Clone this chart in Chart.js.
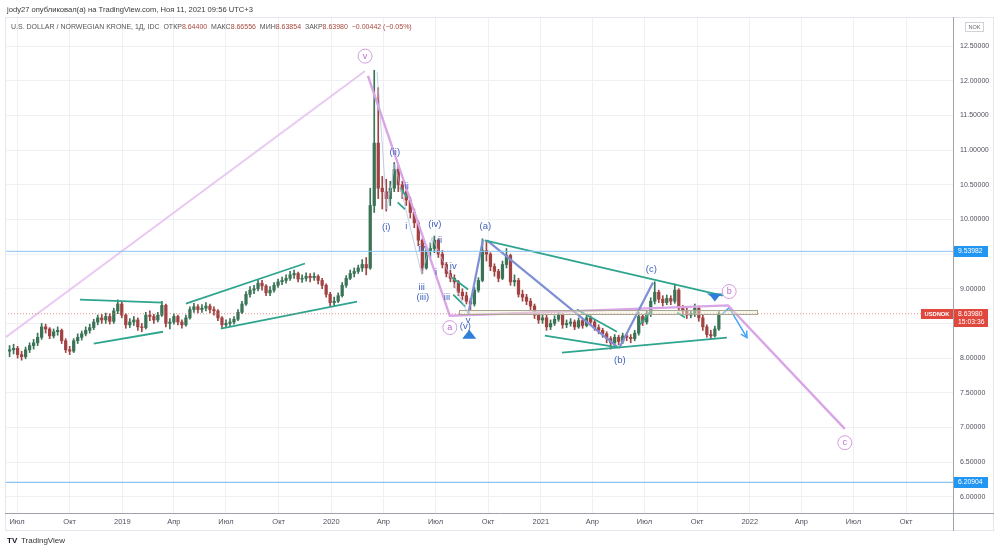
<!DOCTYPE html>
<html><head><meta charset="utf-8">
<script src="https://cdn.jsdelivr.net/npm/chart.js@4/dist/chart.umd.min.js"></script>
<style>html,body{margin:0;padding:0;background:#fff}#wrap{position:relative;width:1000px;height:553px}</style>
</head><body><div id="wrap"><canvas id="c"></canvas></div>
<script>
const FONT = "'Liberation Sans', Arial, sans-serif";
// x axis: days since 2018-07-01
const tickLabels = ['Июл','Окт','2019','Апр','Июл','Окт','2020','Апр','Июл','Окт','2021','Апр','Июл','Окт','2022','Апр','Июл','Окт'];
const priceTicks = [6.0,6.5,7.0,7.5,8.0,8.5,9.0,9.5,10.0,10.5,11.0,11.5,12.0,12.5];
const firstWeekDay = -13;   // week of 2018-06-18
const firstOpen = 8.10;
const close = [
8.12,8.14,8.05,8.02,8.12,8.18,8.22,8.30,8.45,8.42,
8.32,8.38,8.40,8.25,8.12,8.10,8.25,8.30,8.35,8.40,
8.44,8.52,8.58,8.55,8.60,8.53,8.68,8.78,8.62,8.48,
8.52,8.55,8.45,8.44,8.62,8.60,8.55,8.62,8.76,8.50,
8.52,8.60,8.52,8.48,8.58,8.70,8.74,8.70,8.72,8.75,
8.70,8.68,8.58,8.48,8.50,8.52,8.56,8.66,8.78,8.92,
8.98,9.00,9.08,9.04,8.94,8.98,9.05,9.10,9.12,9.15,
9.20,9.22,9.14,9.15,9.18,9.16,9.18,9.12,9.05,8.92,
8.80,8.82,8.90,9.05,9.15,9.22,9.25,9.30,9.35,9.30,
10.20,11.10,10.45,10.40,10.30,10.45,10.72,10.50,10.40,10.28,
10.10,9.95,9.70,9.30,9.55,9.58,9.70,9.50,9.35,9.22,
9.15,9.10,8.95,8.90,8.82,8.78,8.98,9.12,9.55,9.50,
9.32,9.25,9.15,9.35,9.48,9.10,9.12,8.92,8.88,8.82,
8.75,8.62,8.55,8.58,8.45,8.50,8.56,8.62,8.48,8.50,
8.52,8.45,8.54,8.47,8.58,8.52,8.44,8.40,8.35,8.28,
8.22,8.30,8.24,8.32,8.30,8.28,8.36,8.60,8.52,8.64,
8.82,8.95,8.85,8.80,8.86,8.82,8.98,8.72,8.68,8.62,
8.64,8.72,8.58,8.45,8.34,8.32,8.42,8.64];
const high = [
8.18,8.20,8.17,8.10,8.16,8.22,8.27,8.36,8.50,8.49,
8.44,8.42,8.45,8.42,8.28,8.17,8.28,8.35,8.39,8.45,
8.49,8.56,8.62,8.63,8.65,8.64,8.72,8.84,8.81,8.64,
8.57,8.60,8.58,8.50,8.66,8.68,8.63,8.66,8.82,8.78,
8.57,8.64,8.62,8.55,8.62,8.74,8.79,8.77,8.77,8.80,
8.78,8.74,8.70,8.60,8.55,8.57,8.60,8.70,8.82,8.96,
9.03,9.05,9.13,9.12,9.06,9.03,9.09,9.14,9.17,9.20,
9.25,9.27,9.24,9.20,9.23,9.22,9.23,9.20,9.15,9.07,
8.95,8.88,8.94,9.09,9.19,9.27,9.30,9.34,9.42,9.45,
10.45,12.15,11.90,10.62,10.58,10.55,10.82,10.78,10.55,10.45,
10.32,10.15,9.98,9.72,9.62,9.66,9.76,9.72,9.55,9.38,
9.27,9.20,9.12,9.00,8.95,8.86,9.02,9.16,9.72,9.68,
9.52,9.36,9.28,9.40,9.58,9.50,9.20,9.15,8.98,8.92,
8.86,8.78,8.66,8.63,8.62,8.55,8.61,8.68,8.64,8.55,
8.57,8.55,8.58,8.57,8.62,8.61,8.55,8.48,8.43,8.38,
8.31,8.34,8.33,8.36,8.36,8.34,8.40,8.66,8.63,8.68,
8.87,9.10,8.98,8.90,8.91,8.90,9.07,9.00,8.76,8.72,
8.69,8.78,8.75,8.62,8.48,8.40,8.46,8.67];
const low = [
8.02,8.06,8.00,7.97,7.99,8.08,8.13,8.18,8.27,8.36,
8.28,8.29,8.33,8.21,8.08,8.05,8.08,8.21,8.26,8.32,
8.36,8.41,8.48,8.50,8.50,8.49,8.50,8.64,8.58,8.43,
8.44,8.47,8.40,8.38,8.42,8.54,8.50,8.52,8.60,8.45,
8.42,8.49,8.48,8.43,8.46,8.56,8.66,8.65,8.66,8.68,
8.65,8.62,8.54,8.44,8.45,8.46,8.49,8.54,8.64,8.76,
8.88,8.93,8.97,8.98,8.90,8.90,8.95,9.02,9.06,9.08,
9.12,9.15,9.10,9.09,9.11,9.10,9.12,9.07,9.00,8.88,
8.75,8.76,8.80,8.88,9.02,9.13,9.17,9.22,9.25,9.20,
9.28,10.10,10.30,10.15,10.12,10.20,10.40,10.40,10.30,10.20,
10.02,9.88,9.62,9.22,9.28,9.45,9.52,9.45,9.30,9.17,
9.10,9.02,8.90,8.84,8.78,8.70,8.75,8.95,9.10,9.40,
9.26,9.18,9.10,9.13,9.30,9.05,9.04,8.88,8.82,8.77,
8.70,8.57,8.50,8.50,8.40,8.41,8.47,8.53,8.43,8.44,
8.46,8.41,8.43,8.43,8.45,8.48,8.40,8.35,8.30,8.22,
8.13,8.18,8.19,8.21,8.25,8.22,8.25,8.33,8.47,8.49,
8.60,8.78,8.80,8.75,8.77,8.77,8.79,8.68,8.63,8.57,
8.58,8.60,8.53,8.40,8.30,8.27,8.30,8.40];

// horizontal levels
const levelBlueHigh = 9.53982, levelBlueLow = 6.20904, lastPrice = 8.63980;
// drawn wave lines: [day since 2018-07-01, price]
const pinkV = [[-21,8.295],[608,12.14]];
const pinkABC = [[613,12.07],[756,8.61],[1242,8.76],[1446,6.98]];
const greenLines = [
 [[110,8.844],[255,8.80]], [[134,8.208],[255,8.38]],
 [[295,8.786],[503,9.364]], [[356,8.425],[594,8.815]],
 [[817,9.697],[1233,8.90]], [[952,8.078],[1240,8.295]],
 [[922,8.324],[1053,8.15]], [[978,8.70],[1048,8.38]],
 [[669,10.46],[681,10.32]], [[665,10.245],[678,10.145]],
 [[760,9.162],[788,8.988]], [[762,8.916],[783,8.743]],
 [[1088,8.48],[1106,8.67]], [[1153,8.656],[1167,8.584]]
];
const violetLines = [[[788,8.627],[814,9.711]], [[821,9.697],[1048,8.165]], [[1053,8.165],[1111,9.09]]];
const thinWave = [[629,12.124],[646,10.145],[660,10.795],[707,9.205],[725,9.74],[788,8.627]];
const blueArrow = [[1231,8.627],[1244,8.728],[1275,8.295]];
const boxRange = [[772,8.69],[1293,8.63]];
const waveText = [
 ['(ii)',660,10.968],['ii',681,10.477],['(i)',645,9.884],['i',680,9.899],['(iv)',730,9.928],
 ['ii',739,9.697],['iv',707,9.581],['i',732,9.234],['iii',707,9.017],['(iii)',709,8.873],
 ['iv',762,9.321],['iii',751,8.873],['(v)',783,8.454],['v',788,8.54],['(a)',818,9.899],
 ['(b)',1053,7.962],['(c)',1108,9.277]
];
const circleText = [['v',608,12.355],['a',756,8.44],['b',1244,8.96],['c',1446,6.78]];
const triUp = [790,8.338], triDown = [1219,8.873];

const day0 = Date.UTC(2018,6,1);
const tickDays = tickLabels.map((_,k)=>(Date.UTC(2018,6+3*k,1)-day0)/86400000);
const open = close.map((c,i)=> i===0 ? firstOpen : close[i-1]);
const xs = close.map((_,i)=> firstWeekDay + 7*i);
const UP='#3a7355', DN='#a14343';
const col = close.map((c,i)=> c>=open[i] ? UP : DN);

const lineDs = (pts, color, w, dash) => ({type:'line', data: pts.map(p=>({x:p[0],y:p[1]})), borderColor: color, borderWidth: w, borderDash: dash||[], pointRadius:0, fill:false, tension:0, order:0});
const datasets = [
 lineDs([[-21,levelBlueHigh],[1640,levelBlueHigh]], '#8cc4f5', 1),
 lineDs([[-21,levelBlueLow],[1640,levelBlueLow]], '#8cc4f5', 1.2),
 lineDs([[-21,lastPrice],[1640,lastPrice]], 'rgba(229,115,115,0.8)', 1, [1,2]),
 {type:'bar', data: xs.map((x,i)=>({x, y:[low[i],high[i]]})), backgroundColor: col, barThickness:1, grouped:false, order:5},
 {type:'bar', data: xs.map((x,i)=>({x, y:[Math.min(open[i],close[i]), Math.max(open[i],close[i])+ (open[i]===close[i]?0.01:0)]})), backgroundColor: col, barThickness:2.6, grouped:false, order:4},
 lineDs(pinkV, 'rgba(226,182,236,0.75)', 2),
 lineDs(thinWave, 'rgba(175,190,225,0.75)', 1),
 ...greenLines.map(l=>lineDs(l, '#2fa58f', 1.8)),
 ...violetLines.map(l=>lineDs(l, '#7e8fd6', 2.2)),
 lineDs(pinkABC, '#d9a5e6', 2.4),
 lineDs(blueArrow, '#42a5f5', 1.5)
];

const drawPlugin = {
 id:'draw',
 afterDatasetsDraw(chart){
  const {ctx, scales:{x,y}} = chart;
  const X = d=>x.getPixelForValue(d), Y = p=>y.getPixelForValue(p);
  ctx.save();
  // range box
  const bx1=X(boxRange[0][0]), bx2=X(boxRange[1][0]), by1=Y(boxRange[0][1]), by2=Y(boxRange[1][1]);
  ctx.fillStyle='rgba(238,234,208,0.45)'; ctx.fillRect(bx1,by1,bx2-bx1,by2-by1);
  ctx.strokeStyle='#a8a592'; ctx.lineWidth=1; ctx.strokeRect(Math.round(bx1)+0.5,Math.round(by1)+0.5,Math.round(bx2-bx1),Math.round(by2-by1));
  // arrow head
  const a=blueArrow[blueArrow.length-2], b=blueArrow[blueArrow.length-1];
  const ax=X(a[0]),ay=Y(a[1]),ex=X(b[0]),ey=Y(b[1]);
  const ang=Math.atan2(ey-ay,ex-ax);
  ctx.strokeStyle='#42a5f5'; ctx.lineWidth=1.5; ctx.beginPath();
  ctx.moveTo(ex-7*Math.cos(ang-0.5),ey-7*Math.sin(ang-0.5)); ctx.lineTo(ex,ey);
  ctx.lineTo(ex-7*Math.cos(ang+0.5),ey-7*Math.sin(ang+0.5)); ctx.stroke();
  // triangles
  ctx.fillStyle='#2f7fd6';
  let tx=X(triUp[0]), ty=Y(triUp[1]);
  ctx.beginPath(); ctx.moveTo(tx,ty-5); ctx.lineTo(tx+7,ty+4); ctx.lineTo(tx-7,ty+4); ctx.closePath(); ctx.fill();
  tx=X(triDown[0]); ty=Y(triDown[1]);
  ctx.beginPath(); ctx.moveTo(tx-8,ty-4); ctx.lineTo(tx+8,ty-4); ctx.lineTo(tx+4,ty-1); ctx.lineTo(tx,ty+4); ctx.lineTo(tx-4,ty-1); ctx.closePath(); ctx.fill();
  // wave texts
  ctx.fillStyle='#3f5fba'; ctx.font='9.5px '+FONT; ctx.textAlign='center'; ctx.textBaseline='middle';
  waveText.forEach(t=>ctx.fillText(t[0],X(t[1]),Y(t[2])));
  // circled labels
  circleText.forEach(t=>{
   const cx=X(t[1]), cy=Y(t[2]);
   ctx.beginPath(); ctx.arc(cx,cy,7,0,Math.PI*2); ctx.fillStyle='#fff'; ctx.fill();
   ctx.strokeStyle='#d49be2'; ctx.lineWidth=1; ctx.stroke();
   ctx.fillStyle='#b96ccf'; ctx.font='9px '+FONT; ctx.fillText(t[0],cx,cy);
  });
  ctx.restore();
 },
 afterDraw(chart){
  const {ctx, scales:{x,y}} = chart;
  const Y = p=>y.getPixelForValue(p);
  ctx.save();
  // frame
  ctx.strokeStyle='#e3e6ec'; ctx.lineWidth=1;
  ctx.strokeRect(5.5,17.5,988,513);
  ctx.strokeStyle='#9ea2ab';
  ctx.beginPath(); ctx.moveTo(953.5,17); ctx.lineTo(953.5,531); ctx.moveTo(5,513.5); ctx.lineTo(994,513.5); ctx.stroke();
  // header
  ctx.fillStyle='#3a3a3a'; ctx.font='7.6px '+FONT; ctx.textAlign='left'; ctx.textBaseline='middle';
  ctx.fillText('jody27 опубликовал(а) на TradingView.com, Ноя 11, 2021 09:56 UTC+3', 7, 9.5);
  // legend line
  const parts=[['U.S. DOLLAR / NORWEGIAN KRONE, 1Д, IDC  ','#555'],['ОТКР','#555'],['8.64400  ','#a8473d'],['МАКС','#555'],['8.66556  ','#a8473d'],['МИН','#555'],['8.63854  ','#a8473d'],['ЗАКР','#555'],['8.63980  ','#a8473d'],['−0.00442 (−0.05%)','#a8473d']];
  ctx.font='7px '+FONT; let px=11;
  parts.forEach(p=>{ctx.fillStyle=p[1]; ctx.fillText(p[0],px,27); px+=ctx.measureText(p[0]).width;});
  // NOK box
  ctx.strokeStyle='#cfd2d9'; ctx.strokeRect(965.5,22.5,18,9);
  ctx.fillStyle='#666'; ctx.font='5.5px '+FONT; ctx.textAlign='center'; ctx.fillText('NOK',974.5,27.2);
  // price tags
  const tag=(p,bg,txt)=>{const ty=Math.round(Y(p)); ctx.fillStyle=bg; ctx.fillRect(954,ty-5,34,11); ctx.fillStyle='#fff'; ctx.font='6.8px '+FONT; ctx.textAlign='left'; ctx.fillText(txt,958,ty+0.5);};
  tag(levelBlueHigh,'#2196f3','9.53982');
  tag(levelBlueLow,'#2196f3','6.20904');
  const ly=Math.round(Y(lastPrice));
  ctx.fillStyle='#e0483e'; ctx.fillRect(954,ly-5,34,18); ctx.fillRect(921,ly-5,32,10);
  ctx.fillStyle='#fff'; ctx.textAlign='left'; ctx.font='6.8px '+FONT;
  ctx.fillText('8.63980',958,ly+0.5); ctx.fillText('15:03:36',958,ly+8);
  ctx.font='bold 5.8px '+FONT; ctx.textAlign='center'; ctx.fillText('USDNOK',937,ly+0.5);
  // logo
  ctx.fillStyle='#131722'; ctx.font='bold 8px '+FONT; ctx.textAlign='left'; ctx.fillText('TV',7,541);
  ctx.fillStyle='#333'; ctx.font='8px '+FONT; ctx.fillText('TradingView',21,541);
  ctx.restore();
 }
};

new Chart(document.getElementById('c'), {
 type:'bar',
 data:{datasets},
 plugins:[drawPlugin],
 options:{
  responsive:true, maintainAspectRatio:false, animation:false,
  layout:{padding:{left:5,top:17,right:0,bottom:0}},
  plugins:{legend:{display:false}, tooltip:{enabled:false}},
  scales:{
   x:{type:'linear', min:-21, max:1635, offset:false,
      afterBuildTicks:s=>{s.ticks=tickDays.map(v=>({value:v}));},
      afterFit:s=>{s.height=40;},
      grid:{color:'#eef0f4', drawTicks:false, offset:false}, border:{display:false},
      ticks:{padding:4, color:'#50535e', font:{family:FONT,size:7.5}, maxRotation:0, autoSkip:false, callback:(v,i)=>tickLabels[i]}},
   y:{position:'right', min:5.766, max:12.919,
      afterBuildTicks:s=>{s.ticks=priceTicks.map(v=>({value:v}));},
      afterFit:s=>{s.width=47;},
      grid:{color:'#eef0f4', drawTicks:false}, border:{display:false},
      ticks:{padding:7, color:'#50535e', font:{family:FONT,size:7}, callback:v=>v.toFixed(5)}}
  }
 }
});
</script></body></html>
